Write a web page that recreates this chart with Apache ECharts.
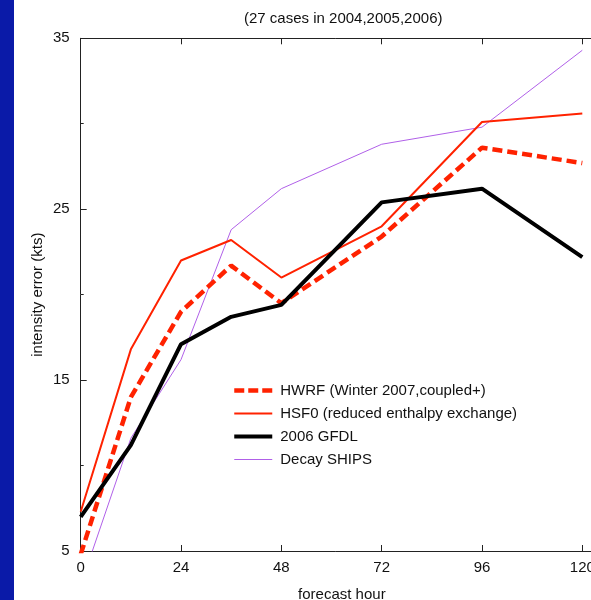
<!DOCTYPE html>
<html>
<head>
<meta charset="utf-8">
<script src="https://cdn.jsdelivr.net/npm/echarts@6/dist/echarts.min.js"></script>
<style>html,body{margin:0;padding:0;background:#fff;}#c{width:591px;height:600px;}</style>
</head>
<body>
<div id="c"></div>
<script>
const hours = [0, 12, 24, 36, 48, 72, 96, 120];
const hwrf  = [4.8, 14.0, 19.0, 21.7, 19.5, 23.4, 28.6, 27.7];
const hsf0  = [7.3, 16.8, 22.0, 23.2, 21.0, 24.0, 30.1, 30.6];
const gfdl  = [7.0, 11.2, 17.1, 18.7, 19.4, 25.4, 26.2, 22.2];
const ships = [3.0, 11.6, 16.2, 23.8, 26.2, 28.8, 29.8, 34.3];
const xTicks = [0, 24, 48, 72, 96, 120];
const yTicks = [5, 15, 25, 35];
const yMinorTicks = [10, 20, 30];
const names = ['HWRF (Winter 2007,coupled+)', 'HSF0 (reduced enthalpy exchange)', '2006 GFDL', 'Decay SHIPS'];

const FONT = 'Liberation Sans, Arial, sans-serif';
const pair = arr => hours.map((h, i) => [h, arr[i]]);
const T = 'rgba(0,0,0,0)';
const styles = [
  {color: '#ff2200', width: 4.5, type: [10, 5]},
  {color: '#ff2200', width: 2, type: 'solid'},
  {color: '#000000', width: 4, type: 'solid'},
  {color: '#b060e8', width: 1, type: 'solid'}
];

const chart = echarts.init(document.getElementById('c'), null, {renderer: 'canvas'});
chart.setOption({
  animation: false,
  backgroundColor: '#fff',
  graphic: [{type: 'rect', left: 0, top: 0, shape: {width: 14, height: 600}, style: {fill: '#0a1aa8'}, z: 100}],
  title: {
    text: '(27 cases in 2004,2005,2006)',
    left: 239, top: 6,
    textStyle: {fontFamily: FONT, fontSize: 15, fontWeight: 'normal', color: '#111'}
  },
  grid: {left: 80.7, right: 0, top: 38.3, bottom: 49, containLabel: false, outerBoundsMode: 'none'},
  legend: {
    orient: 'vertical', left: 232, top: 383, padding: 0,
    itemWidth: 38, itemHeight: 14, itemGap: 8,
    itemStyle: {opacity: 0},
    data: names.map((n, i) => ({name: n, lineStyle: {color: styles[i].color, width: styles[i].width, type: i === 0 ? [10, 4] : 'solid'}})),
    textStyle: {fontFamily: FONT, fontSize: 15, color: '#111', padding: [0, 0, 0, 3], lineHeight: 14}
  },
  xAxis: [{
    type: 'value', min: 0, max: 122.08, position: 'bottom',
    name: 'forecast hour', nameLocation: 'middle', nameGap: 36,
    nameTextStyle: {fontFamily: FONT, fontSize: 15, color: '#111', padding: [0, 0, 0, 12]},
    axisLine: {lineStyle: {color: '#222', width: 1}},
    axisTick: {inside: true, length: 6, customValues: xTicks, lineStyle: {color: '#222'}},
    axisLabel: {customValues: xTicks, margin: 9, fontFamily: FONT, fontSize: 15, color: '#111'},
    splitLine: {show: false}
  }, {
    type: 'value', min: 0, max: 122.08, position: 'top',
    axisLine: {lineStyle: {color: '#222', width: 1}},
    axisTick: {inside: true, length: 6, customValues: xTicks, lineStyle: {color: '#222'}},
    axisLabel: {show: false},
    splitLine: {show: false}
  }],
  yAxis: [{
    type: 'value', min: 5, max: 35, position: 'left',
    name: 'intensity error (kts)', nameLocation: 'middle', nameGap: 35, nameMoveOverlap: false,
    nameTextStyle: {fontFamily: FONT, fontSize: 15, color: '#111'},
    axisLine: {show: true, lineStyle: {color: '#222', width: 1}},
    axisTick: {show: true, inside: true, length: 6, customValues: yTicks, lineStyle: {color: '#222'}},
    axisLabel: {customValues: yTicks, margin: 11, fontFamily: FONT, fontSize: 15, color: '#111'},
    splitLine: {show: false}
  }, {
    type: 'value', min: 5, max: 35, position: 'left', offset: 0,
    axisLine: {show: false},
    axisTick: {show: true, inside: true, length: 3, customValues: yMinorTicks, lineStyle: {color: '#222'}},
    axisLabel: {show: false},
    splitLine: {show: false}
  }],
  series: [{
    name: names[0], type: 'line', data: pair(hwrf), symbol: 'none', clip: true,
    lineStyle: styles[0], itemStyle: {color: T}, z: 4
  }, {
    name: names[1], type: 'line', data: pair(hsf0), symbol: 'none', clip: true,
    lineStyle: styles[1], itemStyle: {color: T}, z: 3
  }, {
    name: names[2], type: 'line', data: pair(gfdl), symbol: 'none', clip: true,
    lineStyle: styles[2], itemStyle: {color: T}, z: 5
  }, {
    name: names[3], type: 'line', data: pair(ships), symbol: 'none', clip: true,
    lineStyle: styles[3], itemStyle: {color: T}, z: 2
  }]
});
</script>
</body>
</html>
